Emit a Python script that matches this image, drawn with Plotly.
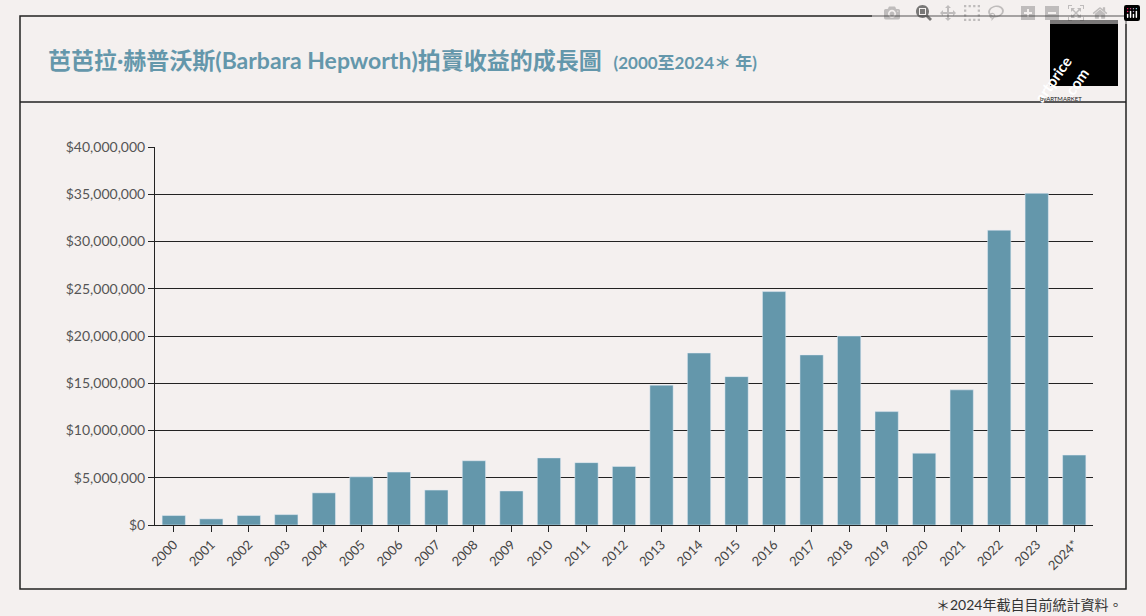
import plotly.graph_objects as go

years = [str(y) for y in range(2000, 2024)] + ["2024*"]
values = [1.0e6, 0.65e6, 1.0e6, 1.1e6, 3.4e6, 5.1e6, 5.6e6, 3.7e6, 6.8e6, 3.6e6,
          7.1e6, 6.6e6, 6.2e6, 14.8e6, 18.2e6, 15.7e6, 24.7e6, 18.0e6, 20.0e6, 12.0e6,
          7.6e6, 14.3e6, 31.2e6, 35.1e6, 7.4e6]
tickvals = [i * 5e6 for i in range(9)]
ticktext = ["$0"] + ["${:,}".format(int(v)) for v in tickvals[1:]]

bg = "#f4f0ef"
blue = "#6497ab"
W, H = 1146, 616
L, R, T, B = 155, 53, 147, 91
PW, PH = W - L - R, H - T - B

def px(x):
    return (x - L) / PW

def py(y):
    return (H - B - y) / PH

fig = go.Figure(go.Bar(x=years, y=values, marker_color=blue, width=0.62))
fig.update_layout(
    width=W, height=H, paper_bgcolor=bg, plot_bgcolor=bg,
    margin=dict(l=L, r=R, t=T, b=B),
    font=dict(family="Lato, Noto Sans CJK TC", color="#444"),
    showlegend=False,
    yaxis=dict(range=[0, 40e6], tickvals=tickvals, ticktext=ticktext, showgrid=True,
               gridcolor="#222", gridwidth=1, zeroline=False, showline=True, linecolor="#222",
               ticks="outside", ticklen=6, tickcolor="#222", tickfont=dict(size=14, color="#555")),
    xaxis=dict(showline=True, linecolor="#222", ticks="outside", ticklen=6, tickcolor="#222",
               tickangle=-45, tickfont=dict(size=13, color="#444"), range=[-0.5, 24.5]),
)
fig.add_shape(type="rect", xref="paper", yref="paper", x0=px(20), x1=px(1126),
              y0=py(589), y1=py(16), line=dict(color="#222", width=1.5))
fig.add_shape(type="line", xref="paper", yref="paper", x0=px(20), x1=px(1126),
              y0=py(102), y1=py(102), line=dict(color="#222", width=1.5))
# logo
fig.add_shape(type="rect", xref="paper", yref="paper", x0=px(1050), x1=px(1118),
              y0=py(86), y1=py(20), fillcolor="black", line=dict(width=0))
fig.add_annotation(xref="paper", yref="paper", x=px(1078), y=py(50),
                   text="<b>artprice</b>", showarrow=False, textangle=-55,
                   font=dict(color="white", size=15, family="Lato"))
fig.add_annotation(xref="paper", yref="paper", x=px(1095), y=py(62),
                   text="<b>.com</b>", showarrow=False, textangle=-55,
                   font=dict(color="white", size=15, family="Lato"))
fig.add_annotation(xref="paper", yref="paper", x=px(1084), y=py(93),
                   text="byARTMARKET", showarrow=False, font=dict(color="#222", size=6))
# title
fig.add_annotation(xref="paper", yref="paper", x=px(46), y=py(60),
                   xanchor="left", yanchor="middle", showarrow=False,
                   text="<b>芭芭拉·赫普沃斯(Barbara Hepworth)拍賣收益的成長圖</b>  <span style='font-size:17px'><b>(2000至2024＊ 年)</b></span>",
                   font=dict(size=23, color=blue, family="Lato, Noto Sans CJK TC"))
fig.add_annotation(xref="paper", yref="paper", x=px(1124), y=py(604),
                   xanchor="right", yanchor="middle", showarrow=False,
                   text="＊2024年截自目前統計資料。", font=dict(size=14, color="#333"))
fig.write_html("out.html")

with open("out.html", encoding="utf-8") as f:
    html = f.read()
html = html.replace("<body>", "<body style=\"margin:0;background:#f4f0ef\">", 1)
with open("out.html", "w", encoding="utf-8") as f:
    f.write(html)
